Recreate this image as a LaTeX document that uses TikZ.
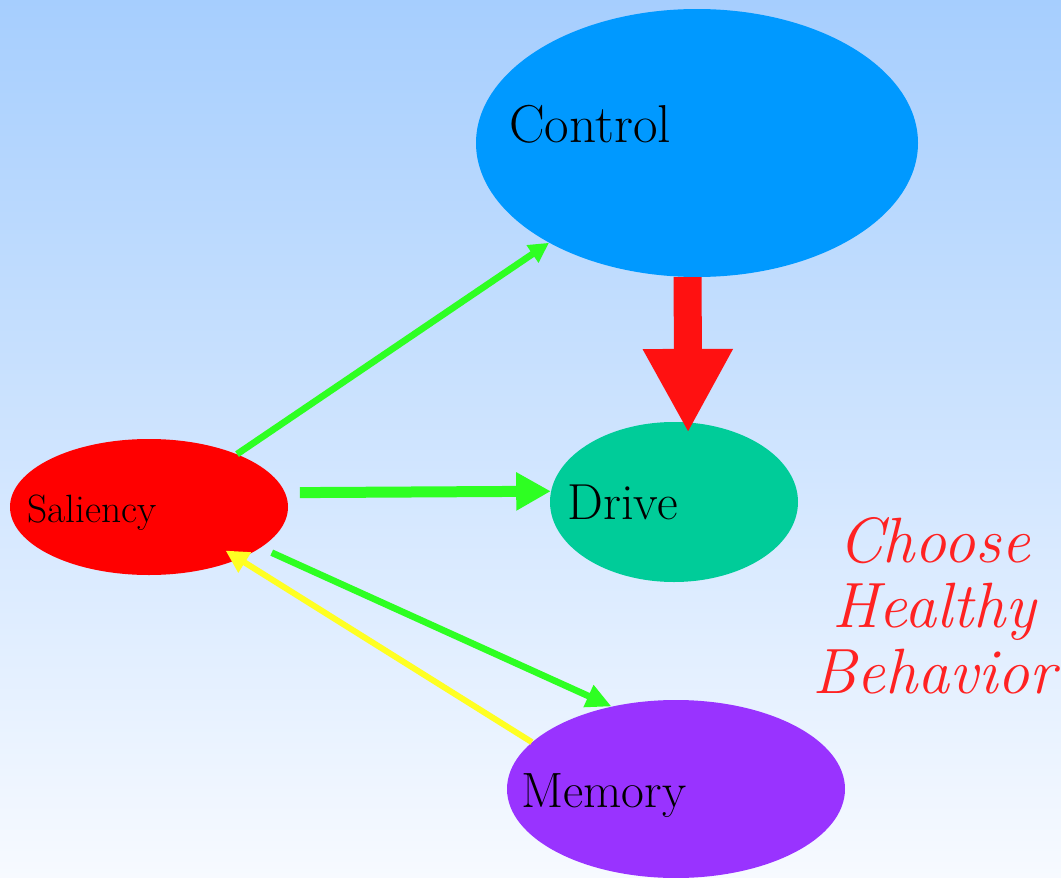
\documentclass[tikz,border=0pt]{standalone}
\usepackage{fontspec}
\usetikzlibrary{arrows.meta,shapes.geometric}

\definecolor{bgtop}{HTML}{A6CEFE}
\definecolor{bgbot}{HTML}{F7FAFF}
\definecolor{ctrlblue}{HTML}{0099FF}
\definecolor{drivegreen}{HTML}{00CC99}
\definecolor{salred}{HTML}{FF0000}
\definecolor{mempurple}{HTML}{9933FF}
\definecolor{linkgreen}{HTML}{2EFF22}
\definecolor{linkyellow}{HTML}{FFFF22}
\definecolor{bigred}{HTML}{FF1111}
\definecolor{slogan}{HTML}{FF2222}

\tikzset{
  blob/.style={ellipse, draw=none, inner sep=0pt},
  label text/.style={anchor=base west, inner sep=0pt, text=black},
  link/.style={line width=5pt, line cap=butt},
}

\begin{document}
\begin{tikzpicture}[x=0.75pt, y=-0.75pt]
  % backdrop
  \shade[top color=bgtop, bottom color=bgbot] (0,0) rectangle (1061,878);
  \useasboundingbox (0,0) rectangle (1061,878);

  % the four regions
  \node[blob, fill=ctrlblue, minimum width=331.5pt, minimum height=201pt] (ctrl) at (697,143) {};
  \node[blob, fill=drivegreen, minimum width=186pt, minimum height=120pt] (drive) at (674,502) {};
  \node[blob, fill=salred, minimum width=208.5pt, minimum height=102pt] (sal) at (149,507) {};
  \node[blob, fill=mempurple, minimum width=253.5pt, minimum height=133.5pt] (mem) at (676,789) {};

  % their names
  \node[label text, font=\fontsize{40}{42}\selectfont] (ctrlname) at (509,142) {Control};
  \node[label text, font=\fontsize{38}{40}\selectfont] (drivename) at (567,519) {Drive};
  \node[label text, font=\fontsize{29.6}{31}\selectfont] (salname) at (27,522) {Saliency};
  \node[label text, font=\fontsize{37.2}{39}\selectfont] (memname) at (521,807) {Memory};

  % connections
  \draw[link, linkgreen, -{Triangle[length=15pt,width=15pt]}] (sal.31) -- (ctrl.214);
  \draw[link, linkgreen, line width=8.25pt, shorten <=11pt,
        -{Triangle[length=26pt,width=27pt]}] (sal.6.3) -- (drive.175);
  \draw[link, linkgreen, shorten <=9pt,
        -{Triangle[length=19pt,width=17pt]}] (sal.-20.5) -- (mem.128);
  \draw[link, linkyellow, line width=4.5pt, shorten >=-12pt,
        -{Triangle[length=17pt,width=17pt]}] (mem.162.4) -- (sal.-30.5);
  \draw[bigred, line width=21pt, shorten >=-8pt,
        -{Triangle[length=63pt,width=63pt]}] (ctrl.266) -- (drive.80);

  % slogan, placed by the baseline of its last line
  \node[text=slogan, align=center, inner sep=0pt, anchor=base,
        font=\fontsize{48}{49}\selectfont\itshape] (motto) at (934,693)
        {Choose\\Healthy\\Behavior};
\end{tikzpicture}
\end{document}
